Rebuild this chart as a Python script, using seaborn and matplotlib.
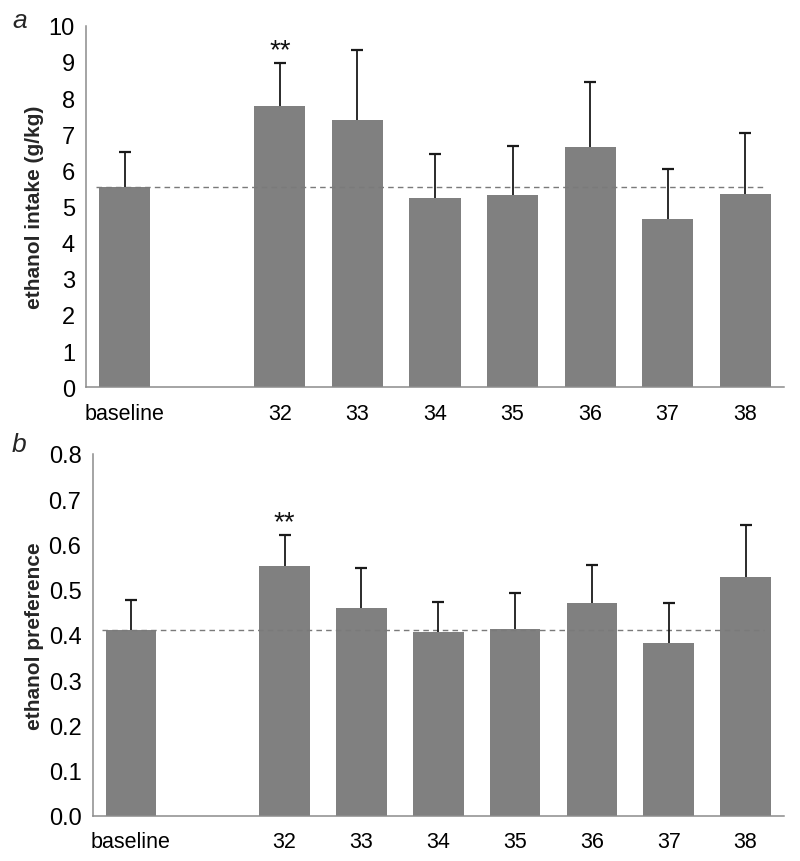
import matplotlib
matplotlib.use("Agg")
import matplotlib.pyplot as plt
import seaborn as sns
import pandas as pd
import numpy as np
from matplotlib.ticker import FixedLocator

sns.set_style("white")
plt.rcParams['font.family'] = ['Liberation Sans', 'DejaVu Sans']

# ---- data ----
slots = ["baseline", " ", "32", "33", "34", "35", "36", "37", "38"]
groups = ["baseline", "32", "33", "34", "35", "36", "37", "38"]
intake_mean = [5.53, 7.77, 7.40, 5.24, 5.31, 6.64, 4.66, 5.35]
intake_sem = [0.97, 1.20, 1.93, 1.20, 1.35, 1.81, 1.38, 1.67]
pref_mean = [0.410, 0.553, 0.460, 0.407, 0.412, 0.471, 0.383, 0.529]
pref_sem = [0.066, 0.068, 0.088, 0.066, 0.081, 0.084, 0.088, 0.114]
intake_ticks = [0, 1, 2, 3, 4, 5, 6, 7, 8, 9, 10]
pref_ticks = [0.0, 0.1, 0.2, 0.3, 0.4, 0.5, 0.6, 0.7, 0.8]
sig_group = "32"

BAR = "#808080"
AX = "#8c8c8c"

fig = plt.figure(figsize=(8.0, 8.62), dpi=100)
ax1 = fig.add_axes([86 / 800, 1 - 388.3 / 862, (784 - 86) / 800, (388.3 - 26.7) / 862])
ax2 = fig.add_axes([92.5 / 800, 1 - 816.7 / 862, (784 - 92.5) / 800, (816.7 - 455) / 862])


def panel(ax, means, sems, ticks, ylabel, fmt, star_off):
    df = pd.DataFrame({"g": groups, "v": means})
    sns.barplot(data=df, x="g", y="v", order=slots, color=BAR, saturation=1,
                width=0.66, errorbar=None, ax=ax, edgecolor="none", linewidth=0)
    pos = [slots.index(g) for g in groups]
    tops = [m + s for m, s in zip(means, sems)]
    ax.vlines(pos, means, tops, colors="#1a1a1a", lw=1.3, zorder=3)
    ax.plot(pos, tops, ls="none", marker="_", markersize=8, mew=1.6,
            color="#1a1a1a", zorder=3)
    ax.plot([-0.37, 8.24], [means[0], means[0]], ls=(0, (4, 3)), color="#7a7a7a",
            lw=1.0, zorder=2.5)
    si = groups.index(sig_group)
    ax.text(pos[si], tops[si] + star_off, "**", ha="center", va="bottom",
            fontsize=20, color="#111111")
    ax.set_xlim(-0.5, 8.5)
    ax.set_ylim(ticks[0], ticks[-1])
    ax.set_yticks(ticks)
    ax.set_yticklabels([fmt.format(t) for t in ticks])
    ax.set_xticks(range(len(slots)))
    ax.set_xticklabels(slots)
    ax.xaxis.set_minor_locator(FixedLocator(np.arange(-0.5, 9.0, 1.0)))
    ax.tick_params(axis="x", which="major", length=0, labelsize=15.5, pad=11, colors="black")
    ax.tick_params(axis="x", which="minor", length=6, width=1, color=AX, direction="out")
    ax.tick_params(axis="y", which="major", length=5, width=1, color=AX, labelsize=17,
                   pad=3, direction="out", labelcolor="black")
    ax.set_xlabel("")
    ax.set_ylabel(ylabel, fontsize=15, fontweight="bold", labelpad=3)
    for s in ["top", "right"]:
        ax.spines[s].set_visible(False)
    for s in ["left", "bottom"]:
        ax.spines[s].set_color(AX)
        ax.spines[s].set_linewidth(1.1)
    ax.set_facecolor("white")


panel(ax1, intake_mean, intake_sem, intake_ticks, "ethanol intake (g/kg)", "{:d}", 0.0)
panel(ax2, pref_mean, pref_sem, pref_ticks, "ethanol preference", "{:.1f}", 0.0)

fig.text(12 / 800, 1 - 28 / 862, "a", fontsize=19, style="italic", ha="left", va="baseline")
fig.text(12 / 800, 1 - 452 / 862, "b", fontsize=19, style="italic", ha="left", va="baseline")

fig.savefig("out.png", dpi=100, facecolor="white")
